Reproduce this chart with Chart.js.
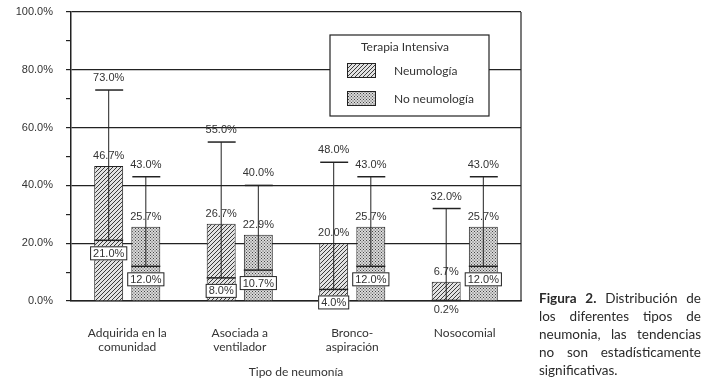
<!DOCTYPE html>
<html>
<head>
<meta charset="utf-8">
<script src="https://cdn.jsdelivr.net/npm/chart.js@4"></script>
<style>
  html, body { margin: 0; padding: 0; background: #fff; }
  #wrap { position: relative; width: 713px; height: 383px; }
  .cap {
    position: absolute; left: 539px; top: 289px; width: 162px;
    font-family: Lato, sans-serif; font-size: 13.5px; line-height: 18px; color: #2a2a2a;
  }
  .cap .j { text-align: justify; text-align-last: justify; }
</style>
</head>
<body>
<div id="wrap">
  <canvas id="chart" width="713" height="383"></canvas>
  <div class="cap">
    <div class="j"><b>Figura 2.</b> Distribución de</div>
    <div class="j">los diferentes tipos de</div>
    <div class="j">neumonia, las tendencias</div>
    <div class="j">no son estadísticamente</div>
    <div>significativas.</div>
  </div>
</div>
<script>
const categories = [['Adquirida en la', 'comunidad'], ['Asociada a', 'ventilador'], ['Bronco-', 'aspiración'], 'Nosocomial'];
const seriesNames = ['Neumología', 'No neumología'];

// box top, median and whisker max, in percent
const neumoTop = [46.7, 26.7, 20.0, 6.7];
const neumoMedian = [21.0, 8.0, 4.0, 0.2];
const neumoMax = [73.0, 55.0, 48.0, 32.0];

const noNeumoTop = [25.7, 22.9, 25.7, 25.7];
const noNeumoMedian = [12.0, 10.7, 12.0, 12.0];
const noNeumoMax = [43.0, 40.0, 43.0, 43.0];

const yLabelStep = 20;

const ink = '#222';
const textColor = '#333';
const numFont = '11px "Liberation Sans", Arial, sans-serif';

function hatchPattern() {
  const c = document.createElement('canvas');
  c.width = c.height = 4;
  const g = c.getContext('2d');
  g.fillStyle = '#e2e2e2';
  g.fillRect(0, 0, 4, 4);
  g.strokeStyle = '#3a3a3a';
  g.lineWidth = 1;
  g.beginPath();
  g.moveTo(0, 4); g.lineTo(4, 0);
  g.moveTo(-1, 1); g.lineTo(1, -1);
  g.moveTo(3, 5); g.lineTo(5, 3);
  g.stroke();
  return g.createPattern(c, 'repeat');
}

function dotPattern() {
  const c = document.createElement('canvas');
  c.width = c.height = 3;
  const g = c.getContext('2d');
  g.fillStyle = '#d8d8d8';
  g.fillRect(0, 0, 3, 3);
  g.fillStyle = '#444';
  g.fillRect(0, 0, 1, 1);
  g.fillRect(1.5, 1.5, 1, 1);
  return g.createPattern(c, 'repeat');
}

const patterns = [hatchPattern(), dotPattern()];

function fmt(v) {
  return v.toFixed(1) + '%';
}

const frame = {
  id: 'frame',
  beforeDatasetsDraw(chart) {
    const {ctx, chartArea} = chart;
    ctx.save();
    ctx.strokeStyle = ink;
    ctx.lineWidth = 1.2;
    ctx.beginPath();
    ctx.moveTo(chartArea.right, chartArea.top);
    ctx.lineTo(chartArea.right, chartArea.bottom);
    ctx.stroke();
    ctx.restore();
  },
};

const boxDecor = {
  id: 'boxDecor',
  afterDatasetsDraw(chart) {
    const {ctx} = chart;
    const y = chart.scales.y;
    ctx.save();
    ctx.font = numFont;
    ctx.textAlign = 'center';
    ctx.textBaseline = 'middle';
    chart.data.datasets.forEach((ds, di) => {
      chart.getDatasetMeta(di).data.forEach((bar, i) => {
        const x = bar.x;
        const half = bar.width / 2;
        const topPx = y.getPixelForValue(ds.data[i][1]);
        const medPx = y.getPixelForValue(ds.medians[i]);
        const maxPx = y.getPixelForValue(ds.maxes[i]);

        // labels above the box and the whisker cap
        ctx.fillStyle = textColor;
        ctx.fillText(fmt(ds.data[i][1]), x, topPx - 10);
        ctx.fillText(fmt(ds.maxes[i]), x, maxPx - 12);

        ctx.strokeStyle = ink;
        // median line
        ctx.lineWidth = 1.5;
        ctx.beginPath();
        ctx.moveTo(x - half, medPx);
        ctx.lineTo(x + half, medPx);
        ctx.stroke();

        // whisker from median to max, with cap
        ctx.lineWidth = 1;
        ctx.beginPath();
        ctx.moveTo(x, medPx);
        ctx.lineTo(x, maxPx);
        ctx.stroke();
        ctx.lineWidth = 1.5;
        ctx.beginPath();
        ctx.moveTo(x - half + 1, maxPx);
        ctx.lineTo(x + half, maxPx);
        ctx.stroke();

        // median label
        const label = fmt(ds.medians[i]);
        if (ds.medians[i] < 1) {
          ctx.fillStyle = textColor;
          ctx.fillText(label, x, y.getPixelForValue(0) + 9);
        } else {
          const w = ctx.measureText(label).width + 6;
          const cy = medPx + 13;
          ctx.fillStyle = '#fff';
          ctx.fillRect(x - w / 2, cy - 7, w, 14);
          ctx.lineWidth = 1;
          ctx.strokeRect(x - w / 2 + 0.5, cy - 6.5, w - 1, 13);
          ctx.fillStyle = textColor;
          ctx.fillText(label, x, cy + 0.5);
        }
      });
    });
    ctx.restore();
  },
};

const boxLegend = {
  id: 'boxLegend',
  afterDraw(chart) {
    const {ctx, chartArea} = chart;
    const left = chartArea.left + 259;
    const top = chartArea.top + 23;
    const w = 159, h = 81;
    ctx.save();
    ctx.fillStyle = '#fff';
    ctx.fillRect(left, top, w, h);
    ctx.strokeStyle = ink;
    ctx.lineWidth = 1.2;
    ctx.strokeRect(left, top, w, h);

    ctx.fillStyle = textColor;
    ctx.font = '12px Lato, sans-serif';
    ctx.textAlign = 'center';
    ctx.textBaseline = 'middle';
    ctx.fillText('Terapia Intensiva', left + 75, top + 12);

    ctx.textAlign = 'left';
    seriesNames.forEach((name, k) => {
      const sy = top + 28 + k * 28;
      ctx.fillStyle = patterns[k];
      ctx.fillRect(left + 17, sy, 29, 15);
      ctx.lineWidth = 1;
      ctx.strokeRect(left + 17.5, sy + 0.5, 28, 14);
      ctx.fillStyle = textColor;
      ctx.fillText(name, left + 64, sy + 8);
    });
    ctx.restore();
  },
};

new Chart(document.getElementById('chart'), {
  type: 'bar',
  data: {
    labels: categories,
    datasets: [
      {
        label: seriesNames[0],
        data: neumoTop.map((v) => [0, v]),
        medians: neumoMedian,
        maxes: neumoMax,
        backgroundColor: patterns[0],
        borderColor: ink,
        borderWidth: 1,
        borderSkipped: 'bottom',
      },
      {
        label: seriesNames[1],
        data: noNeumoTop.map((v) => [0, v]),
        medians: noNeumoMedian,
        maxes: noNeumoMax,
        backgroundColor: patterns[1],
        borderColor: ink,
        borderWidth: 1,
        borderSkipped: 'bottom',
      },
    ],
  },
  options: {
    responsive: false,
    animation: false,
    categoryPercentage: 0.66,
    barPercentage: 0.78,
    layout: {
      padding: {left: 0, top: 12, right: 192, bottom: 0},
    },
    plugins: {
      legend: {display: false},
      tooltip: {enabled: false},
    },
    scales: {
      x: {
        grid: {display: false},
        border: {color: ink, width: 1.5},
        ticks: {
          color: textColor,
          font: {family: 'Lato', size: 12},
          padding: 17,
          maxRotation: 0,
        },
        title: {
          display: true,
          text: 'Tipo de neumonía',
          color: textColor,
          font: {family: 'Lato', size: 12},
          padding: {top: 4, bottom: 4},
        },
        afterFit: (scale) => {
          scale.height = 82;
        },
      },
      y: {
        min: 0,
        max: 100,
        ticks: {
          stepSize: 5,
          color: textColor,
          font: {family: 'Liberation Sans', size: 11},
          padding: 13,
          callback: (v) => (v % yLabelStep === 0 ? v.toFixed(1) + '%' : ''),
        },
        grid: {
          color: (c) => (c.tick.value % yLabelStep === 0 ? ink : 'rgba(0,0,0,0)'),
          tickColor: ink,
          tickLength: 5,
          lineWidth: 1.2,
        },
        border: {color: ink, width: 1.5},
        afterFit: (scale) => {
          scale.width = 71;
          scale.paddingTop = 0;
          scale.paddingBottom = 0;
        },
      },
    },
  },
  plugins: [frame, boxDecor, boxLegend],
});
</script>
</body>
</html>
